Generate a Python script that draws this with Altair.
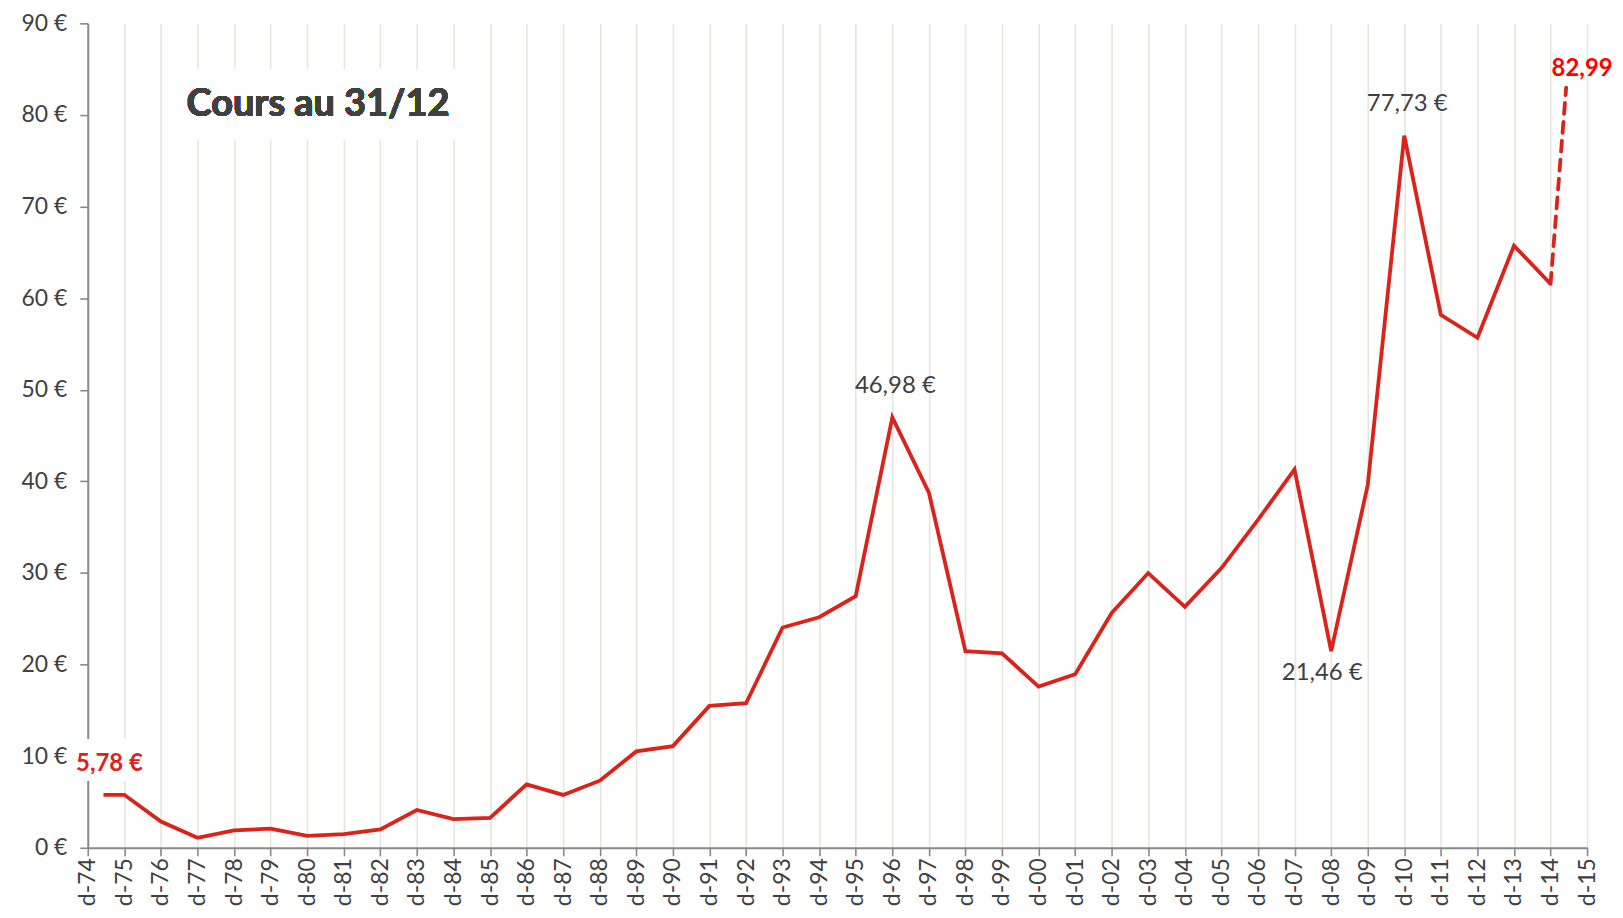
import altair as alt
import pandas as pd

# ---------------- data ----------------
dates = ["1975-06-06"] + [f"{y}-12-31" for y in range(1975, 2015)]
prices = [5.78,
          5.78, 2.87, 1.09, 1.89, 2.10, 1.30, 1.49, 2.00, 4.13, 3.12,
          3.26, 6.93, 5.77, 7.33, 10.52, 11.10, 15.49, 15.78, 24.05, 25.17,
          27.46, 46.98, 38.78, 21.47, 21.22, 17.60, 18.94, 25.64, 29.99, 26.30,
          30.54, 35.80, 41.32, 21.46, 39.60, 77.73, 58.19, 55.68, 65.73, 61.56]

proj_dates = ["2014-12-31", "2015-06-05"]
proj_prices = [61.56, 82.99]

tick_years = list(range(1974, 2016))
y_ticks = list(range(0, 91, 10))

peak_dates = ["1996-12-31", "2010-12-31"]
peak_prices = [46.98, 77.73]
peak_labels = ["46,98 €", "77,73 €"]

low_dates = ["2008-12-31"]
low_prices = [21.46]
low_labels = ["21,46 €"]

start_dates = ["1975-06-06"]
start_prices = [5.78]
start_labels = ["5,78 €"]

end_dates = ["2015-06-05"]
end_prices = [82.99]
end_labels = ["82,99"]

title_text = "Cours au 31/12"

# ---------------- styling ----------------
FONT = "Lato"
TXT = "#404040"
RED = "#d9231b"
AXIS_C = "#888888"

main = pd.DataFrame({"date": dates, "value": prices})
proj = pd.DataFrame({"date": proj_dates, "value": proj_prices})
peaks = pd.DataFrame({"date": peak_dates, "value": peak_prices, "label": peak_labels})
lows = pd.DataFrame({"date": low_dates, "value": low_prices, "label": low_labels})
starts = pd.DataFrame({"date": start_dates, "value": start_prices, "label": start_labels})
ends = pd.DataFrame({"date": end_dates, "value": end_prices, "label": end_labels})

x_scale = alt.Scale(type="utc",
                    domain=[alt.DateTime(year=1974, month=12, date=31, utc=True),
                            alt.DateTime(year=2015, month=12, date=31, utc=True)])
y_scale = alt.Scale(domain=[0, 90], nice=False, zero=True)

x_axis = alt.Axis(values=[alt.DateTime(year=y, month=12, date=31, utc=True) for y in tick_years],
                  labelExpr="'d-' + utcFormat(datum.value, '%y')",
                  labelAngle=270, labelOverlap=False, labelFlush=False,
                  labelFont=FONT, labelFontSize=23, labelColor=TXT, labelPadding=2,
                  grid=True, gridColor="#e6e5df", gridWidth=1.6,
                  domainColor=AXIS_C, domainWidth=2, tickColor=AXIS_C, tickWidth=1.6,
                  tickSize=8, title=None)
y_axis = alt.Axis(values=y_ticks, labelExpr="datum.value + ' €'",
                  labelFont=FONT, labelFontSize=23, labelColor=TXT, labelPadding=13,
                  grid=False, domainColor=AXIS_C, domainWidth=2, tickColor=AXIS_C,
                  tickWidth=1.6, tickSize=8, title=None)

X = alt.X("date:T", scale=x_scale, axis=x_axis)
Y = alt.Y("value:Q", scale=y_scale, axis=y_axis)

line = alt.Chart(main).mark_line(color=RED, strokeWidth=3.8, strokeJoin="miter").encode(x=X, y=Y)
dash = alt.Chart(proj).mark_line(color=RED, strokeWidth=3.8, strokeDash=[11, 8],
                                 strokeCap="round").encode(x=X, y=Y)

# white boxes behind the annotations
box_title = alt.Chart(main).mark_rect(color="white").encode(
    x=alt.value(84), x2=alt.value(380), y=alt.value(46), y2=alt.value(117))
box_start = alt.Chart(main).mark_rect(color="white").encode(
    x=alt.value(-18), x2=alt.value(62), y=alt.value(718), y2=alt.value(760))

title = alt.Chart(main).mark_text(text=title_text, font=FONT, fontSize=38, fontWeight="bold",
                                  color=TXT, align="center", baseline="middle").encode(
    x=alt.value(231), y=alt.value(82))

peak_txt = alt.Chart(peaks).mark_text(font=FONT, fontSize=24, color=TXT, align="center",
                                      baseline="middle", dx=3, dy=-32).encode(x=X, y=Y, text="label:N")
low_txt = alt.Chart(lows).mark_text(font=FONT, fontSize=24, color=TXT, align="center",
                                    baseline="middle", dx=-9, dy=22).encode(x=X, y=Y, text="label:N")
start_txt = alt.Chart(starts).mark_text(font=FONT, fontSize=24, fontWeight="bold", color="#e0201b",
                                        align="center", baseline="middle", dx=6, dy=-31).encode(
    x=X, y=Y, text="label:N")
end_txt = alt.Chart(ends).mark_text(font=FONT, fontSize=24, fontWeight="bold", color="#ff0000",
                                    align="center", baseline="middle", dx=16, dy=-19).encode(
    x=X, y=Y, text="label:N")

chart = alt.layer(line, box_title, box_start, dash, title, peak_txt, low_txt, start_txt, end_txt).properties(
    width=1504, height=827,
    autosize=alt.AutoSizeParams(type="none"),
    padding={"left": 80, "top": 14, "right": 28, "bottom": 60},
    background="white",
).configure_view(stroke=None)

chart.save("out.html", embed_options={"renderer": "svg", "actions": False})
